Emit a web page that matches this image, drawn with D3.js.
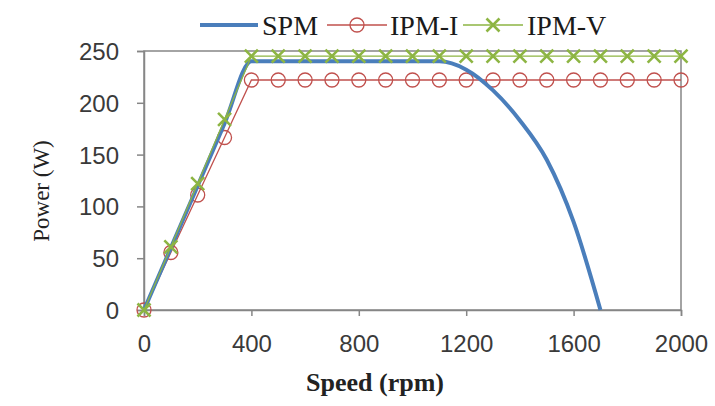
<!DOCTYPE html>
<html>
<head>
<meta charset="utf-8">
<script src="https://cdn.jsdelivr.net/npm/d3@7/dist/d3.min.js"></script>
<style>
  html, body { margin: 0; padding: 0; background: #fff; }
  svg { display: block; }
</style>
</head>
<body>
<svg id="chart" width="715" height="406"></svg>
<script>
// Motor output power versus speed for three machine designs
const speed = [0, 100, 200, 300, 400, 500, 600, 700, 800, 900, 1000,
               1100, 1200, 1300, 1400, 1500, 1600, 1700, 1800, 1900, 2000];
const spmPower = [0, 60, 120, 180, 240, 240, 240, 240, 240, 240, 240,
                  240, 232, 212, 183, 145, 85, 0];
const ipmIPower = [0, 55.5, 111, 166.5, 222, 222, 222, 222, 222, 222, 222,
                   222, 222, 222, 222, 222, 222, 222, 222, 222, 222];
const ipmVPower = [0, 61, 122, 184, 245, 245, 245, 245, 245, 245, 245,
                   245, 245, 245, 245, 245, 245, 245, 245, 245, 245];
const xTicks = [0, 400, 800, 1200, 1600, 2000];
const yTicks = [0, 50, 100, 150, 200, 250];
const seriesNames = ["SPM", "IPM-I", "IPM-V"];

const colors = { spm: "#4a7ebb", ipmI: "#c0504d", ipmV: "#8db543", frame: "#868686", text: "#3a3a3a" };

const svg = d3.select("#chart");
const plot = { left: 144, right: 681, top: 51, bottom: 310 };

const x = d3.scaleLinear().domain([0, 2000]).range([plot.left, plot.right]);
const y = d3.scaleLinear().domain([0, 250]).range([plot.bottom, plot.top]);

// plot-area frame
svg.append("rect")
  .attr("x", plot.left).attr("y", plot.top)
  .attr("width", plot.right - plot.left).attr("height", plot.bottom - plot.top)
  .attr("fill", "none").attr("stroke", colors.frame).attr("stroke-width", 1.5);

// axes
const xAxis = svg.append("g")
  .attr("transform", `translate(0,${plot.bottom})`)
  .call(d3.axisBottom(x).tickValues(xTicks).tickSize(6).tickPadding(30).tickFormat(d3.format("d")));
const yAxis = svg.append("g")
  .attr("transform", `translate(${plot.left},0)`)
  .call(d3.axisLeft(y).tickValues(yTicks).tickSize(7).tickPadding(18).tickFormat(d3.format("d")));

[xAxis, yAxis].forEach(g => {
  g.select(".domain").attr("stroke", colors.frame).attr("stroke-width", 1.5);
  g.selectAll(".tick line").attr("stroke", colors.frame).attr("stroke-width", 1.5);
  g.selectAll(".tick text")
    .attr("fill", colors.text)
    .style("font-family", "'Liberation Sans', Arial, sans-serif")
    .style("font-size", "24px");
});
xAxis.selectAll(".tick text").attr("dy", "0.25em");
yAxis.selectAll(".tick text").attr("dy", "0.35em");

// axis titles
svg.append("text")
  .attr("x", 375).attr("y", 391)
  .attr("text-anchor", "middle")
  .attr("fill", "#222")
  .style("font-family", "'Liberation Serif', 'Times New Roman', serif")
  .style("font-size", "26px").style("font-weight", "bold")
  .text("Speed (rpm)");

svg.append("text")
  .attr("transform", "translate(49,191) rotate(-90)")
  .attr("text-anchor", "middle")
  .attr("fill", "#222")
  .style("font-family", "'Liberation Serif', 'Times New Roman', serif")
  .style("font-size", "23px")
  .text("Power (W)");

const line = d3.line().x(d => x(d[0])).y(d => y(d[1]));
const smoothLine = d3.line().x(d => x(d[0])).y(d => y(d[1])).curve(d3.curveMonotoneX);
const pairs = vals => vals.map((v, i) => [speed[i], v]);

const ipmIData = pairs(ipmIPower);
const spmData = pairs(spmPower);
const ipmVData = pairs(ipmVPower);

// marker shapes
function circleMarker(g, cx, cy, r) {
  g.append("circle").attr("cx", cx).attr("cy", cy).attr("r", r)
    .attr("fill", "none").attr("stroke", colors.ipmI).attr("stroke-width", 1.3);
}
function crossMarker(g, cx, cy, s) {
  g.append("path")
    .attr("d", `M${cx - s},${cy - s}L${cx + s},${cy + s}M${cx - s},${cy + s}L${cx + s},${cy - s}`)
    .attr("stroke", colors.ipmV).attr("stroke-width", 2.6).attr("fill", "none");
}

// IPM-I series
svg.append("path").datum(ipmIData).attr("d", line)
  .attr("fill", "none").attr("stroke", colors.ipmI).attr("stroke-width", 1.3);
const gI = svg.append("g");
ipmIData.forEach(d => circleMarker(gI, x(d[0]), y(d[1]), 7));

// SPM series (smoothed)
svg.append("path").datum(spmData).attr("d", smoothLine)
  .attr("fill", "none").attr("stroke", colors.spm).attr("stroke-width", 4)
  .attr("stroke-linejoin", "round");

// IPM-V series
svg.append("path").datum(ipmVData).attr("d", line)
  .attr("fill", "none").attr("stroke", colors.ipmV).attr("stroke-width", 1.3);
const gV = svg.append("g");
ipmVData.forEach(d => crossMarker(gV, x(d[0]), y(d[1]), 6.5));

// legend
const legend = svg.append("g");
const legendY = 25;
const legendItems = [
  { name: seriesNames[0], x1: 200, x2: 258, tx: 262, kind: "spm" },
  { name: seriesNames[1], x1: 327, x2: 387, tx: 390, kind: "ipmI" },
  { name: seriesNames[2], x1: 463, x2: 523, tx: 527, kind: "ipmV" }
];
legendItems.forEach(it => {
  legend.append("line")
    .attr("x1", it.x1).attr("x2", it.x2).attr("y1", legendY).attr("y2", legendY)
    .attr("stroke", colors[it.kind]).attr("stroke-width", it.kind === "spm" ? 4 : 1.3);
  const cx = (it.x1 + it.x2) / 2;
  if (it.kind === "ipmI") circleMarker(legend, cx, legendY, 7);
  if (it.kind === "ipmV") crossMarker(legend, cx, legendY, 6.5);
  legend.append("text")
    .attr("x", it.tx).attr("y", legendY + 10)
    .attr("fill", "#1a1a1a")
    .style("font-family", "'Liberation Serif', 'Times New Roman', serif")
    .style("font-size", "28px")
    .text(it.name);
});
</script>
</body>
</html>
